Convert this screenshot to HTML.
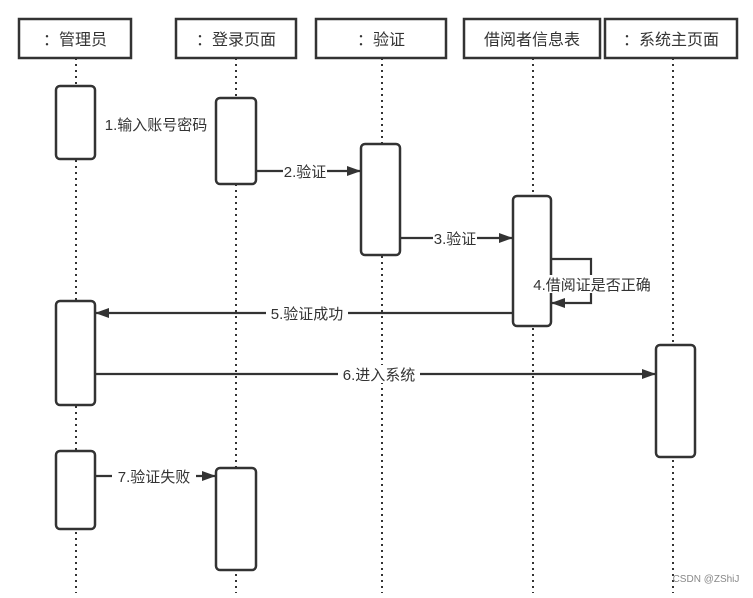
<!DOCTYPE html>
<html><head><meta charset="utf-8"><style>
html,body{margin:0;padding:0;background:#fff;}
svg text{font-family:"Liberation Sans","Noto Sans CJK SC",sans-serif;fill:#333;}
</style></head><body>
<svg width="753" height="593" viewBox="0 0 753 593" xmlns="http://www.w3.org/2000/svg">
<defs><marker id="a" markerWidth="14" markerHeight="10" refX="13" refY="5" orient="auto" markerUnits="userSpaceOnUse"><path d="M0,0 L14,5 L0,10 z" fill="#333"/></marker></defs>
<g stroke="#333" stroke-width="2" stroke-dasharray="2,4" fill="none">
<line x1="76" y1="58" x2="76" y2="593"/>
<line x1="236" y1="58" x2="236" y2="593"/>
<line x1="382" y1="58" x2="382" y2="593"/>
<line x1="533" y1="58" x2="533" y2="593"/>
<line x1="673" y1="58" x2="673" y2="593"/>
</g>
<g stroke="#333" stroke-width="2.5" fill="#fff">
<rect x="19" y="19" width="112" height="39"/>
<rect x="176" y="19" width="120" height="39"/>
<rect x="316" y="19" width="130" height="39"/>
<rect x="464" y="19" width="136" height="39"/>
<rect x="605" y="19" width="132" height="39"/>
</g>
<g font-size="16" text-anchor="middle">
<text x="75" y="45">：管理员</text>
<text x="236" y="45">：登录页面</text>
<text x="381" y="45">：验证</text>
<text x="532" y="45">借阅者信息表</text>
<text x="671" y="45">：系统主页面</text>
</g>
<g stroke="#333" stroke-width="2.5" fill="#fff">
<rect x="56" y="86" width="39" height="73" rx="4"/>
<rect x="216" y="98" width="40" height="86" rx="4"/>
<rect x="361" y="144" width="39" height="111" rx="4"/>
<rect x="513" y="196" width="38" height="130" rx="4"/>
<rect x="56" y="301" width="39" height="104" rx="4"/>
<rect x="656" y="345" width="39" height="112" rx="4"/>
<rect x="56" y="451" width="39" height="78" rx="4"/>
<rect x="216" y="468" width="40" height="102" rx="4"/>
</g>
<g stroke="#333" stroke-width="2.2" fill="none" marker-end="url(#a)">
<line x1="256" y1="171" x2="360" y2="171"/>
<line x1="400" y1="238" x2="512" y2="238"/>
<polyline points="551,259 591,259 591,303 552,303"/>
<line x1="513" y1="313" x2="96" y2="313"/>
<line x1="95" y1="374" x2="655" y2="374"/>
<line x1="95" y1="476" x2="215" y2="476"/>
</g>
<g font-size="15" text-anchor="middle">
<rect x="98" y="115" width="116" height="18" fill="#fff"/><text x="156" y="130">1.输入账号密码</text>
<rect x="283" y="162" width="44" height="18" fill="#fff"/><text x="305" y="177">2.验证</text>
<rect x="433" y="229" width="44" height="18" fill="#fff"/><text x="455" y="244">3.验证</text>
<rect x="527" y="275" width="130" height="18" fill="#fff"/><text x="592" y="290">4.借阅证是否正确</text>
<rect x="266" y="304" width="82" height="18" fill="#fff"/><text x="307" y="319">5.验证成功</text>
<rect x="338" y="365" width="82" height="18" fill="#fff"/><text x="379" y="380">6.进入系统</text>
<rect x="112" y="467" width="84" height="18" fill="#fff"/><text x="154" y="482">7.验证失败</text>
</g>
<text x="706" y="582" font-size="10" text-anchor="middle" style="fill:#888">CSDN @ZShiJ</text>
</svg>
</body></html>
